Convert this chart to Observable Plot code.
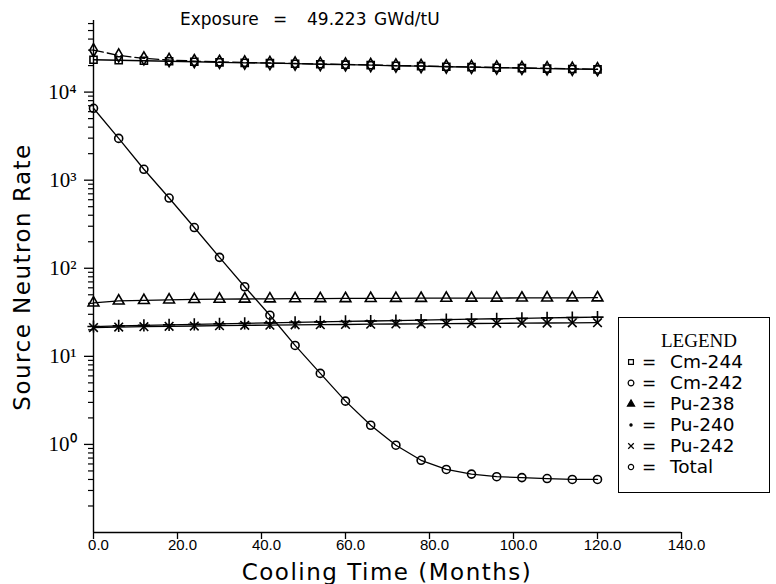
<!DOCTYPE html>
<html><head><meta charset="utf-8">
<script src="https://cdn.jsdelivr.net/npm/d3@7"></script>
<script src="https://cdn.jsdelivr.net/npm/@observablehq/plot@0.6"></script>
<style>
body{margin:0;background:#fff;}
#wrap{position:relative;width:776px;height:584px;overflow:hidden;background:#fff;}
.t{position:absolute;font-family:"DejaVu Sans";color:#000;white-space:pre;line-height:1;}
#legend{position:absolute;left:618px;top:317px;width:150px;height:174px;border:1.5px solid #000;}
#lgsym{position:absolute;left:0;top:0;pointer-events:none;}
</style></head><body><div id="wrap"></div>
<script>
// ---- data ----
const months = [0,6,12,18,24,30,36,42,48,54,60,66,72,78,84,90,96,102,108,114,120];
const cm244 = [23300,23000,22700,22400,22100,21800,21500,21300,21000,20700,20500,20200,19900,19700,19400,19200,18900,18700,18500,18300,18100];
const cm242 = [6550,2980,1330,627,290,133,61.7,29.3,13.3,6.4,3.1,1.65,0.98,0.66,0.52,0.46,0.43,0.42,0.41,0.40,0.40];
const pu238 = [40.5,42.6,43.2,43.8,44.3,44.6,44.8,45.0,45.2,45.3,45.4,45.5,45.6,45.7,45.8,45.9,45.9,46.0,46.1,46.2,46.3];
const pu240 = [21.8,22.2,22.5,22.8,23.1,23.4,23.7,24.0,24.3,24.6,24.9,25.2,25.5,25.8,26.1,26.4,26.7,27.0,27.3,27.6,27.9];
const pu242 = [21.2,21.5,21.7,21.9,22.1,22.3,22.5,22.6,22.8,22.9,23.0,23.2,23.3,23.4,23.5,23.6,23.7,23.8,23.9,24.0,24.1];
const total = [29960,26100,24150,23140,22500,22040,21670,21440,21130,20820,20620,20320,20020,19820,19520,19320,19020,18820,18620,18420,18220];
const seriesNames = ["Cm-244","Cm-242","Pu-238","Pu-240","Pu-242","Total"];
const seriesSymbols = ["square","circle","triangle","plus","times","diamond"];
const xTicks = [0,20,40,60,80,100,120,140];
const xTickLabels = ["0.0","20.0","40.0","60.0","80.0","100.0","120.0","140.0"];
const yMajor = [1,10,100,1000,10000];
const yMajorLabels = ["10\u2070","10\u00B9","10\u00B2","10\u00B3","10\u2074"];
const titleText = ["Exposure","=","49.223","GWd/tU"];
const xTitle = "Cooling Time (Months)";
const yTitle = "Source Neutron Rate";

// ---- build ----
const allValues = [cm244,cm242,pu238,pu240,pu242,total];
const rows = seriesNames.flatMap((n,k)=>months.map((m,i)=>({month:m,value:allValues[k][i],name:n})));
const yMinor = [];
for (let e=-1;e<=4;e++) for (let k=2;k<=9;k++){const v=k*Math.pow(10,e); if (v<=65000) yMinor.push(v);}

const marks = [
  Plot.ruleX([0],{stroke:"#000",strokeWidth:1.4}),
  Plot.ruleY([0.1],{stroke:"#000",strokeWidth:1.4}),
  Plot.axisY(yMinor,{tickSize:5,tickFormat:()=>"",label:null,strokeWidth:1.2}),
  Plot.axisY(yMajor,{tickSize:9,tickFormat:()=>"",label:null,strokeWidth:1.3}),
  Plot.axisX(xTicks,{tickSize:7,tickFormat:()=>"",label:null,strokeWidth:1.3}),
  Plot.text(yMajor,{y:d=>d,frameAnchor:"left",dx:-17,textAnchor:"end",text:(d,i)=>yMajorLabels[i],fontFamily:"Liberation Serif",fontSize:21,fill:"#000"}),
  Plot.text(xTicks,{x:d=>d,frameAnchor:"bottom",dy:17,dx:5,text:(d,i)=>xTickLabels[i],fontFamily:"Liberation Sans",fontSize:15,fill:"#000"}),
  Plot.line(rows.filter(d=>d.name!=="Total"),{x:"month",y:"value",z:"name",stroke:"#000",strokeWidth:1.3}),
  Plot.line(rows.filter(d=>d.name==="Total"),{x:"month",y:"value",stroke:"#000",strokeWidth:1.3,strokeDasharray:"10,4"})
];
seriesNames.forEach((n,k)=>{
  marks.push(Plot.dot(rows.filter(d=>d.name===n),{x:"month",y:"value",symbol:seriesSymbols[k],r:4,stroke:"#000",fill:"none",strokeWidth:1.6}));
});

const chart = Plot.plot({
  width:776,height:584,
  marginLeft:93,marginRight:95,marginTop:20,marginBottom:52,
  x:{domain:[0,140]},
  y:{type:"log",domain:[0.1,65000]},
  style:{background:"#fff",color:"#000"},
  marks
});
const wrap = document.getElementById("wrap");
wrap.appendChild(chart);

function addText(txt,left,top,size,family,extra){
  const d=document.createElement("div");d.className="t";d.textContent=txt;
  d.style.left=left+"px";d.style.top=top+"px";d.style.fontSize=size+"px";
  if(family) d.style.fontFamily=family;
  if(extra) Object.assign(d.style,extra);
  wrap.appendChild(d);return d;
}
// title
addText(titleText[0],180,11,17);
addText(titleText[1],273,11,17);
addText(titleText[2],307,11,17);
addText(titleText[3],374,11,17);
// axis titles
addText(xTitle,387,572,23,null,{transform:"translate(-50%,-50%)",letterSpacing:"1.5px"});
addText(yTitle,22,277,23,null,{transform:"translate(-50%,-50%) rotate(-90deg)",letterSpacing:"1.5px"});
// legend
const lg=document.createElement("div");lg.id="legend";wrap.appendChild(lg);
addText("LEGEND",699,340,19,"Liberation Serif",{transform:"translate(-50%,-50%)"});
const legendSym = [d3.symbolSquare2,d3.symbolCircle,d3.symbolTriangle,d3.symbolCircle,d3.symbolTimes,d3.symbolCircle];
const legendSize = [30,26,22,4,22,22];
const legendFill = [false,false,true,true,false,false];
const svg = d3.select(wrap).append("svg").attr("id","lgsym").attr("width",776).attr("height",584);
seriesNames.forEach((n,k)=>{
  const cy=362+21*k;
  svg.append("path").attr("d",d3.symbol(legendSym[k],legendSize[k])()).attr("transform",`translate(631,${cy})`)
     .attr("fill",legendFill[k]?"#000":"none").attr("stroke","#000").attr("stroke-width",1.2);
  addText("=",642,cy,17,null,{transform:"translateY(-50%)"});
  addText(n,670,cy,18.5,null,{transform:"translateY(-50%)"});
});
</script></body></html>
